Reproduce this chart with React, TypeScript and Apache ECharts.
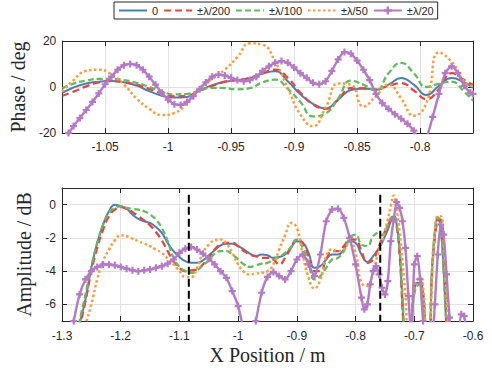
import React, { useEffect, useRef } from "react";
import * as echarts from "echarts";

const seriesNames = ["0", "±λ/200", "±λ/100", "±λ/50", "±λ/20"];
const seriesColors = ["#4a80b5", "#e9443f", "#67b95f", "#ff9b3b", "#b47ac6"];

// ---------- Top panel: phase ----------
const phaseX = [-1.084, -1.075, -1.065, -1.055, -1.045, -1.035, -1.025, -1.015, -1.005, -0.995, -0.985, -0.975, -0.965, -0.955, -0.945, -0.935, -0.925, -0.915, -0.905, -0.895, -0.885, -0.875, -0.865, -0.855, -0.845, -0.835, -0.825, -0.815, -0.805, -0.795, -0.785, -0.775, -0.765, -0.758];
const phase0 = [-2.6, -0.2, 1.5, 2.3, 2.6, 2.1, 0.6, -1.8, -3.8, -4.6, -4.3, -1.5, 0.8, 2.3, 3.0, 3.8, 5.8, 6.8, 2.5, -3.2, -7.3, -9.3, -5.5, -1.3, -0.6, -1.2, 1.0, 3.9, 1.0, -3.5, 0.5, 3.9, 2.0, -0.4];
const phase200 = [-3.8, -2.0, 0.3, 2.0, 2.6, 2.0, 1.0, -0.8, -2.8, -4.0, -3.8, -1.5, 0.5, 2.3, 3.0, 4.0, 6.0, 7.5, 4.0, -2.5, -7.5, -9.5, -5.5, -0.5, -0.6, -1.0, 0.5, 1.7, -1.5, -5.3, -1.0, 6.0, 3.0, 0.9];
const phase100 = [-0.6, 1.5, 2.8, 3.5, 3.5, 3.0, 1.8, 0, -2.0, -3.2, -3.0, -1.5, -0.4, -0.5, -1.0, -0.5, 2.0, 3.2, -0.8, -6.5, -12.8, -11.5, -5.0, 2.8, 1.0, -1.5, 6.0, 10.5, 6.0, 0, 1.5, 2.3, -2.0, -6.0];
const phase50 = [-2.0, 3.0, 7.0, 7.5, 5.5, 1.0, -5.0, -9.5, -12.2, -11.3, -7.0, -0.3, 3.5, 7.5, 13.0, 19.0, 18.4, 11.0, -0.5, -12.0, -17.0, -9.0, 1.5, 1.0, -8.5, -4.0, 1.0, -5.0, -12.5, -7.0, 15.0, 11.0, 2.5, 0.3];
const phaseXFine = [-1.084, -1.079, -1.075, -1.07, -1.065, -1.06, -1.055, -1.05, -1.045, -1.04, -1.035, -1.03, -1.025, -1.02, -1.015, -1.01, -1.005, -1.0, -0.995, -0.99, -0.985, -0.98, -0.975, -0.97, -0.965, -0.96, -0.955, -0.95, -0.945, -0.94, -0.935, -0.93, -0.925, -0.92, -0.915, -0.91, -0.905, -0.9, -0.895, -0.89, -0.885, -0.88, -0.875, -0.87, -0.865, -0.86, -0.855, -0.85, -0.845, -0.84, -0.835, -0.83, -0.825, -0.82, -0.815, -0.81, -0.805, -0.8, -0.795, -0.79, -0.785, -0.78, -0.775, -0.77, -0.765, -0.76, -0.758];
const phase20 = [-23, -20, -17, -13.5, -10, -6.5, -2.8, 1.2, 4.5, 7.5, 9.5, 10, 9.5, 7.5, 4.5, 1, -2.5, -5.5, -7.5, -7.8, -6.5, -4, -1, 2, 4.5, 5.4, 5, 4, 3, 2.5, 3, 4.5, 7, 9, 10.5, 11.3, 10.5, 8.5, 6, 4, 1.8, 1.2, 2.5, 7, 12, 15.2, 14.5, 11.5, 7.5, 3, -3, -7, -9.5, -11.8, -13.8, -16, -19, -24, -22, -13, -3, 6, 9, 6, 0.5, -2.5, -3];

// ---------- Bottom panel: amplitude ----------
const ampX = [-1.3, -1.29, -1.28, -1.27, -1.26, -1.25, -1.24, -1.23, -1.22, -1.21, -1.2, -1.19, -1.18, -1.17, -1.16, -1.15, -1.14, -1.13, -1.12, -1.11, -1.1, -1.09, -1.08, -1.07, -1.06, -1.05, -1.04, -1.03, -1.02, -1.01, -1.0, -0.99, -0.98, -0.97, -0.96, -0.95, -0.94, -0.93, -0.92, -0.91, -0.9, -0.89, -0.88, -0.87, -0.86, -0.85, -0.84, -0.83, -0.82, -0.81, -0.8, -0.79, -0.78, -0.77, -0.76, -0.755, -0.75, -0.745, -0.74, -0.735, -0.73, -0.725, -0.72, -0.715, -0.71, -0.705, -0.7, -0.695, -0.69, -0.685, -0.68, -0.675, -0.67, -0.665, -0.66, -0.655, -0.65, -0.645, -0.64, -0.635, -0.63, -0.62, -0.61, -0.6];
const amp0 = [-12, -10.5, -8.9, -7.2, -5.7, -3.8, -2.3, -1.2, -0.4, 0.0,
  -0.1, -0.25, -0.6, -0.85, -1.0, -1.1, -1.35, -1.7, -2.3, -2.8,
  -3.15, -3.4, -3.5, -3.5, -3.35, -3.05, -2.75, -2.45, -2.35, -2.35,
  -2.5, -2.7, -2.95, -3.1, -3.0, -3.05, -3.2, -3.15, -3.0, -2.6,
  -2.2, -2.3, -2.9, -3.8, -3.7, -3.3, -3.0, -3.0, -2.7, -2.2,
  -2.3, -3.0, -3.45, -3.1,
  -2.6, -2.3, -1.9, -1.5, -1.0, -0.7, -1.2, -2.8, -6, -9, -9, -7, -5.2, -4.7, -4.7, -5.5, -7.5, -8, -4, -1.8, -0.8, -1.5, -4, -7.5, -10, -11, -11,
  -11, -11, -11];
const amp200 = [-12, -10.5, -9, -7.4, -5.8, -4.0, -2.6, -1.5, -0.7, -0.3,
  -0.15, -0.25, -0.45, -0.7, -0.95, -1.25, -1.65, -2.15, -2.8, -3.4,
  -3.8, -4.0, -3.95, -3.9, -3.6, -3.2, -2.7, -2.4, -2.3, -2.3,
  -2.5, -2.8, -3.0, -3.1, -3.2, -3.2, -3.3, -3.6, -3.2, -2.6,
  -2.1, -2.3, -3.1, -4.0, -4.0, -3.3, -2.8, -2.8, -2.5, -2.1,
  -2.1, -2.8, -3.5, -3.3,
  -2.5, -2.0, -1.6, -1.3, -0.9, -0.7, -1.3, -3.0, -6.2, -9, -9, -6.8, -5.0, -4.6, -4.6, -5.3, -7.5, -8, -4.2, -2.0, -1.0, -0.9, -3.0, -7.0, -10, -11, -11,
  -11, -11, -11];
const amp100 = [-12, -10.5, -8.8, -7.0, -5.4, -3.7, -2.3, -1.2, -0.5, -0.2,
  -0.1, -0.2, -0.25, -0.3, -0.4, -0.6, -0.9, -1.4, -2.2, -3.2,
  -3.75, -4.0, -4.1, -3.95, -3.65, -3.35, -2.95, -2.8, -2.8, -3.0,
  -3.3, -3.6, -3.75, -3.65, -3.55, -3.5, -3.3, -3.15, -2.9, -2.55,
  -2.1, -2.6, -3.5, -4.5, -4.3, -3.8, -3.3, -3.2, -2.8, -2.0,
  -1.8, -2.4, -2.5, -1.9,
  -1.7, -1.85, -1.6, -1.2, -0.8, -0.7, -1.2, -2.6, -5.5, -8.5, -9, -7, -5.4, -4.9, -4.8, -5.6, -7.5, -7.8, -4, -1.6, -0.75, -1.4, -4.0, -7.5, -10, -11, -11,
  -11, -11, -11];
const amp50 = [-15, -13.5, -11.5, -9.3, -7.3, -6.0, -4.5, -3.4, -2.7, -2.15,
  -1.85, -1.9, -2.05, -2.2, -2.35, -2.5, -2.7, -2.9, -3.25, -3.6,
  -4.0, -4.35, -4.35, -3.8, -2.9, -2.4, -2.15, -2.1, -2.35, -2.9,
  -3.6, -4.05, -4.2, -4.15, -4.1, -4.0, -3.6, -2.7, -1.85, -1.1,
  -1.4, -3.0, -4.4, -5.05, -4.5, -3.1, -2.7, -2.8, -2.7, -2.25,
  -2.9, -4.7, -4.9, -4.0,
  -2.7, -2.2, -1.6, -0.9, -0.1, 0.55, -0.3, -1.6, -3.5, -5.5, -8.5, -7, -5, -4.5, -4.4, -5.0, -7.5, -8, -4.5, -1.8, -0.7, -0.7, -2.3, -5.5, -9, -11, -11,
  -11, -11, -11];
const ampXFine = [-1.3, -1.29, -1.28, -1.27, -1.26, -1.25, -1.24, -1.23, -1.22, -1.21, -1.2, -1.19, -1.18, -1.17, -1.16, -1.15, -1.14, -1.13, -1.12, -1.11, -1.1, -1.09, -1.08, -1.07, -1.06, -1.05, -1.04, -1.03, -1.02, -1.01, -1.0, -0.99, -0.98, -0.97, -0.96, -0.95, -0.94, -0.93, -0.92, -0.91, -0.9, -0.89, -0.88, -0.87, -0.86, -0.85, -0.84, -0.83, -0.82, -0.81, -0.8, -0.79,
  -0.785, -0.78, -0.775, -0.77, -0.765, -0.76, -0.755, -0.75, -0.745, -0.74, -0.735, -0.73, -0.725, -0.72, -0.715, -0.71, -0.705, -0.7, -0.695, -0.69, -0.685, -0.68, -0.675, -0.67, -0.665, -0.66, -0.655, -0.65, -0.645, -0.64, -0.635, -0.63, -0.625, -0.62, -0.615, -0.61, -0.605, -0.6];
const amp20 = [-11, -9, -7.0, -5.4, -4.5, -4.0, -3.75, -3.6, -3.6, -3.65,
  -3.75, -3.85, -3.95, -4.0, -3.95, -3.9, -3.8, -3.7, -3.55, -3.3,
  -2.9, -2.65, -2.55, -2.7, -2.95, -3.25, -3.6, -4.0, -4.4, -5.2,
  -6.1, -7.6, -8.5, -7.0, -5.3, -4.35, -4.05, -4.3, -4.5, -4.0,
  -3.3, -3.0, -3.6, -4.3, -3.0, -1.0, -0.3, -0.25, -0.8, -2.0,
  -3.6, -5.6,
  -6.3, -6.0, -4.8, -4.0, -3.7, -4.2, -5.0, -5.4, -4.6, -2.2, -0.9, 0.15, -0.2, -1.0, -2.6, -5.5, -8, -3.6, -3.1, -4.5, -7.0, -8.5, -9, -8.5, -6.0, -3.0, -1.2, -1.8, -4.2, -6.8, -9, -9, -8, -6.6, -6.7, -8, -9,
  -9];

// vertical markers (x position of the phase window)
const markerX = [-1.084, -0.758];
const markerY = [0.6, -7];

const zip = (xs: number[], ys: number[]) => xs.map((x, i) => [x, ys[i]]);

const FRAME = "#262626";
const GRID = "#e2e2e2";
const SANS = "Liberation Sans";
const SERIF = "Liberation Serif";
const starSymbol =
  "path://M2.4,0H4.6V2.4H7V4.6H4.6V7H2.4V4.6H0V2.4H2.4Z";

const lineStyles: any[] = [
  { width: 2, type: "solid" },
  { width: 2.3, type: [7, 4] },
  { width: 2.3, type: [6, 3] },
  { width: 2.5, type: [2.5, 2.5] },
  { width: 2.4, type: "solid" },
];

export default function App() {
  const ref = useRef<HTMLDivElement>(null);
  useEffect(() => {
    if (!ref.current) return;
    const chart = echarts.init(ref.current, undefined, { renderer: "svg" });

    const topData = [
      zip(phaseX, phase0),
      zip(phaseX, phase200),
      zip(phaseX, phase100),
      zip(phaseX, phase50),
      zip(phaseXFine, phase20),
    ];
    const botData = [
      zip(ampX, amp0),
      zip(ampX, amp200),
      zip(ampX, amp100),
      zip(ampX, amp50),
      zip(ampXFine, amp20),
    ];

    const mk = (i: number, data: any, xi: number, yi: number) => ({
      type: "line",
      name: seriesNames[i],
      data,
      xAxisIndex: xi,
      yAxisIndex: yi,
      smooth: i === 4 ? 0.25 : 0.5,
      symbol: i === 4 ? starSymbol : "none",
      symbolSize: 7,
      showSymbol: i === 4,
      clip: true,
      color: seriesColors[i],
      itemStyle: { color: seriesColors[i] },
      lineStyle: { color: seriesColors[i], ...lineStyles[i] },
      emphasis: { disabled: true },
    });

    const series: any[] = [];
    for (let i = 0; i < 5; i++) series.push(mk(i, topData[i], 0, 0));
    for (let i = 0; i < 5; i++) series.push(mk(i, botData[i], 2, 2));
    markerX.forEach((x) => {
      series.push({
        type: "line",
        data: markerY.map((y) => [x, y]),
        xAxisIndex: 2,
        yAxisIndex: 2,
        symbol: "none",
        silent: true,
        lineStyle: { color: "#000", width: 2, type: [8, 4] },
        z: 5,
      });
    });

    const fmtTop = (v: number) => {
      const k = v / 0.05;
      return Math.abs(k - Math.round(k)) < 1e-6 ? String(parseFloat(v.toFixed(2))) : "";
    };
    const labelStyle = { fontFamily: SANS, fontSize: 12, color: FRAME };
    const nameStyle = { fontFamily: SERIF, fontSize: 20, color: FRAME };
    const axLine = { show: true, onZero: false, lineStyle: { color: FRAME, width: 1 } };
    const tick = { show: true, inside: true, length: 5, lineStyle: { color: FRAME } };

    const legendData = seriesNames.map((n, i) =>
      i === 4 ? { name: n } : { name: n, itemStyle: { opacity: 0, color: "rgba(0,0,0,0)", borderWidth: 0 } }
    );

    const option: any = {
      animation: false,
      backgroundColor: "#fff",
      legend: {
        data: legendData,
        top: 2,
        left: 114,
        itemWidth: 28,
        itemHeight: 10,
        itemGap: 5,
        padding: [3, 4],
        borderColor: FRAME,
        borderWidth: 1,
        textStyle: { fontFamily: SANS, fontSize: 11, color: FRAME },
      },
      grid: [
        { left: 62, top: 41, width: 411, height: 92, containLabel: false },
        { left: 62, top: 188, width: 411, height: 133, containLabel: false },
      ],
      xAxis: [
        {
          type: "value", gridIndex: 0, position: "bottom", min: -1.084, max: -0.758,
          axisLine: axLine, axisTick: tick,
          axisLabel: { ...labelStyle, margin: 8, formatter: fmtTop },
          splitLine: { show: true, lineStyle: { color: GRID, width: 1 } },
        },
        {
          type: "value", gridIndex: 0, position: "top", min: -1.084, max: -0.758,
          axisLine: axLine, axisTick: tick, axisLabel: { show: false }, splitLine: { show: false },
        },
        {
          type: "value", gridIndex: 1, position: "bottom", min: -1.3, max: -0.6, interval: 0.1,
          axisLine: axLine, axisTick: tick,
          axisLabel: { ...labelStyle, margin: 9, formatter: (v: number) => String(parseFloat(v.toFixed(2))) },
          splitLine: { show: true, lineStyle: { color: GRID, width: 1 } },
          name: "X Position / m", nameLocation: "middle", nameGap: 24, nameTextStyle: nameStyle,
        },
        {
          type: "value", gridIndex: 1, position: "top", min: -1.3, max: -0.6, interval: 0.1,
          axisLine: axLine, axisTick: tick, axisLabel: { show: false }, splitLine: { show: false },
        },
      ],
      yAxis: [
        {
          type: "value", gridIndex: 0, position: "left", min: -20, max: 20, interval: 20,
          axisLine: axLine, axisTick: tick,
          axisLabel: { ...labelStyle, margin: 6 },
          splitLine: { show: true, lineStyle: { color: GRID, width: 1 } },
          name: "Phase / deg", nameLocation: "middle", nameRotate: 90, nameGap: 26, nameTextStyle: nameStyle,
        },
        {
          type: "value", gridIndex: 0, position: "right", min: -20, max: 20, interval: 20,
          axisLine: axLine, axisTick: tick, axisLabel: { show: false }, splitLine: { show: false },
        },
        {
          type: "value", gridIndex: 1, position: "left", min: -7, max: 1,
          axisLine: axLine, axisTick: tick,
          axisLabel: { ...labelStyle, margin: 6, formatter: (v: number) => (Math.abs(v % 2) < 1e-9 ? String(v) : "") },
          splitLine: { show: true, lineStyle: { color: GRID, width: 1 } },
          name: "Amplitude / dB", nameLocation: "middle", nameRotate: 90, nameGap: 21, nameTextStyle: nameStyle,
        },
        {
          type: "value", gridIndex: 1, position: "right", min: -7, max: 1,
          axisLine: axLine, axisTick: tick, axisLabel: { show: false }, splitLine: { show: false },
        },
      ],
      series,
    };
    chart.setOption(option);
    return () => chart.dispose();
  }, []);

  return (
    <div
      ref={ref}
      style={{ position: "fixed", left: 0, top: 0, width: 492, height: 373, background: "#fff" }}
    />
  );
}
